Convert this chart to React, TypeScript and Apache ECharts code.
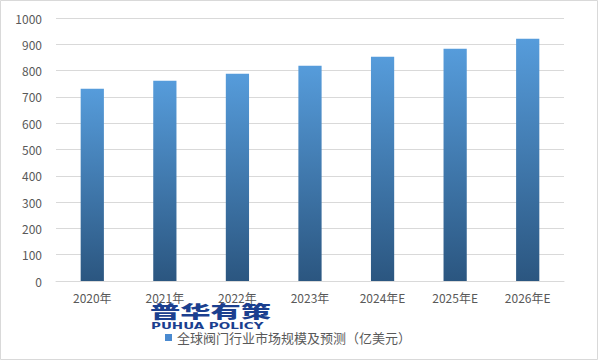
import React, { useEffect, useRef } from "react";
import * as echarts from "echarts";

const categories = ["2020年", "2021年", "2022年", "2023年", "2024年E", "2025年E", "2026年E"];
const values = [731, 761, 788, 818, 853, 883, 921];
const seriesName = "全球阀门行业市场规模及预测（亿美元）";
const yTicks = { min: 0, max: 1000, interval: 100 };

export default function App() {
  const ref = useRef<HTMLDivElement>(null);
  useEffect(() => {
    const chart = echarts.init(ref.current!, null, { renderer: "svg" });
    const font = "'Noto Sans CJK SC', 'Microsoft YaHei', sans-serif";
    chart.setOption({
      animation: false,
      backgroundColor: "#ffffff",
      textStyle: { fontFamily: font },
      grid: { left: 56, right: 36, top: 18, bottom: 80, containLabel: false },
      legend: {
        left: 160,
        top: 326,
        itemWidth: 7,
        itemHeight: 7,
        itemGap: 4,
        icon: "rect",
        textStyle: { color: "#595959", fontSize: 13, fontFamily: font },
        data: [{ name: seriesName, itemStyle: { color: "#4a8ad0" } }],
      },
      xAxis: {
        type: "category",
        data: categories,
        axisLine: { lineStyle: { color: "#d9d9d9" } },
        axisTick: { show: false },
        axisLabel: { color: "#595959", fontSize: 12, margin: 10, fontFamily: font },
      },
      yAxis: {
        type: "value",
        min: yTicks.min,
        max: yTicks.max,
        interval: yTicks.interval,
        axisLine: { show: false },
        axisTick: { show: false },
        splitLine: { lineStyle: { color: "#d9d9d9" } },
        axisLabel: {
          color: "#595959",
          fontSize: 12,
          margin: 14,
          fontFamily: font,
          formatter: (v: number) => String(v),
        },
      },
      series: [
        {
          name: seriesName,
          type: "bar",
          data: values,
          barWidth: "32%",
          itemStyle: {
            color: new echarts.graphic.LinearGradient(0, 0, 0, 1, [
              { offset: 0, color: "#569cdb" },
              { offset: 1, color: "#2b5680" },
            ]),
          },
        },
      ],
      graphic: [
        {
          type: "rect",
          shape: { x: 0.5, y: 0.5, width: 597, height: 359 },
          style: { fill: "none", stroke: "#d9d9d9", lineWidth: 1 },
          silent: true,
        },
        {
          type: "text",
          x: 150,
          y: 302,
          scaleX: 1.78,
          z: 10,
          style: {
            text: "普华有策",
            fill: "#1b3f8f",
            font: "900 17px 'Noto Sans CJK SC', sans-serif",
            verticalAlign: "top",
          },
        },
        {
          type: "text",
          x: 151,
          y: 321,
          scaleX: 1.5,
          z: 10,
          style: {
            text: "PUHUA POLICY",
            fill: "#1b3f8f",
            font: "bold 9px 'DejaVu Sans', sans-serif",
            verticalAlign: "top",
          },
        },
      ],
    });
    return () => chart.dispose();
  }, []);
  return <div ref={ref} style={{ width: 600, height: 361, position: "absolute", left: 0, top: 0 }} />;
}
